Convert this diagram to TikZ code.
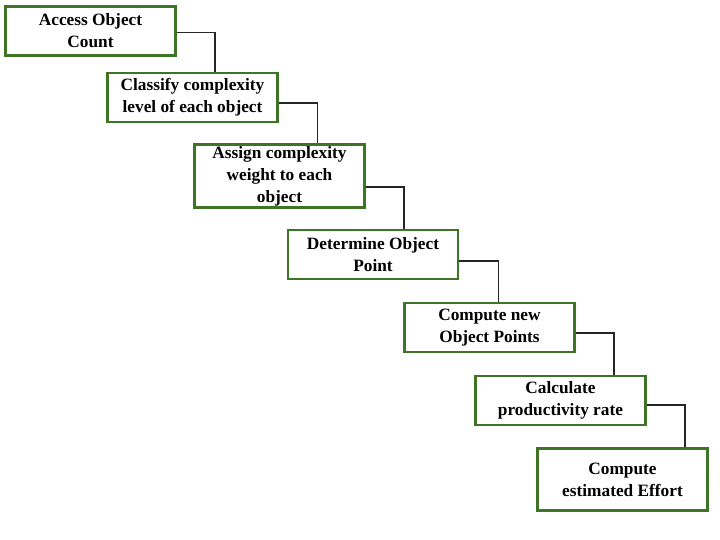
\documentclass[tikz,border=0pt]{standalone}
\usepackage{fontspec}
\setmainfont{Liberation Serif}
\definecolor{boxgreen}{RGB}{62,116,38}
\tikzset{
  stepnode/.style={draw=boxgreen, line width=2.1pt, fill=white, align=center,
    minimum width=4.25cm, minimum height=1.225cm, inner sep=1pt,
    font=\fontsize{12.3}{15.6}\selectfont\bfseries},
  link/.style={draw=black!85, line width=1pt}
}
\begin{document}
\begin{tikzpicture}
\useasboundingbox (0,0) rectangle (18,-13.5);
% the steps
\node[stepnode] (acc) at (2.2625,-0.775) {Access Object\\Count};
\node[stepnode] (cls) at (4.8125,-2.4375) {Classify complexity\\level of each object};
\node[stepnode, minimum height=1.575cm] (asg) at (6.9875,-4.4) {Assign complexity\\weight to each\\object};
\node[stepnode] (det) at (9.325,-6.3625) {Determine Object\\Point};
\node[stepnode] (cnp) at (12.2375,-8.1875) {Compute new\\Object Points};
\node[stepnode] (cal) at (14.0125,-10.0125) {Calculate\\productivity rate};
\node[stepnode, minimum height=1.55cm] (est) at (15.5625,-11.9875) {Compute\\estimated Effort};
% connectors
\draw[link] ([yshift=-0.03cm]acc.east) -- ++(0.95,0) coordinate (k1) -- (k1 |- cls.north);
\draw[link] ([yshift=-0.14cm]cls.east) -- ++(0.97,0) coordinate (k2) -- (k2 |- asg.north);
\draw[link] ([yshift=-0.27cm]asg.east) -- ++(0.95,0) coordinate (k3) -- (k3 |- det.north);
\draw[link] ([yshift=-0.16cm]det.east) -- ++(0.97,0) coordinate (k4) -- (k4 |- cnp.north);
\draw[link] ([yshift=-0.14cm]cnp.east) -- ++(0.95,0) coordinate (k5) -- (k5 |- cal.north);
\draw[link] ([yshift=-0.11cm]cal.east) -- ++(0.95,0) coordinate (k6) -- (k6 |- est.north);
\end{tikzpicture}
\end{document}
